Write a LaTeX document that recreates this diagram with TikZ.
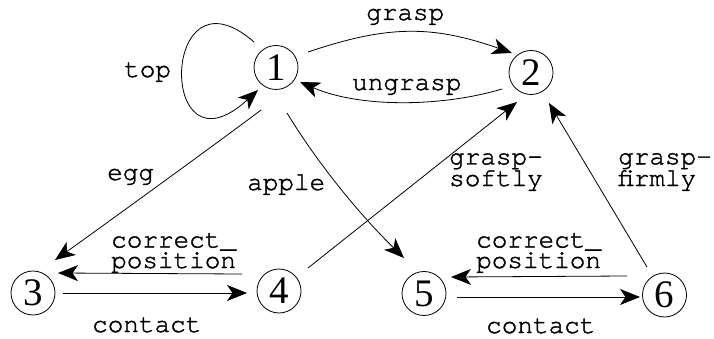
\documentclass[tikz,border=0pt]{standalone}
\usepackage{fontspec}
\setmainfont{Liberation Serif}
\setmonofont[FakeBold=1.5]{TeX Gyre Cursor}
\usetikzlibrary{arrows.meta,calc}

\begin{document}
\begin{tikzpicture}[x=1pt,y=-1pt,
  state/.style={circle,draw,line width=0.8pt,minimum size=44pt,inner sep=0pt,
                font=\fontsize{39}{39}\selectfont},
  lbl/.style={anchor=base west,inner sep=0pt,align=left,
              font=\ttfamily\fontsize{26}{20.5}\selectfont},
  arr/.style={line width=0.8pt,-{Stealth[length=20pt,width=16pt,inset=5.5pt]}}]
\useasboundingbox (0,0) rectangle (714,339);

% states
\node[state] (n1) at (276,67.5) {1};
\node[state] (n2) at (531,72.5) {2};
\node[state] (n3) at (33,293)   {3};
\node[state] (n4) at (279,291)  {4};
\node[state] (n5) at (424,293.5) {5};
\node[state] (n6) at (664.5,295) {6};

% transitions
\draw[arr] ($(n1)+(-22,-25.5)$) .. controls (160,-40) and (157,183) .. ($(n1)+(-18,22.5)$);
\draw[arr] ($(n1)+(32,-15.5)$) .. controls (388,25) and (432,25) .. ($(n2)+(-19,-19.5)$);
\draw[arr] ($(n2)+(-29,16.5)$) .. controls (442,107) and (360,108) .. ($(n1)+(24,14.5)$);
\draw[arr] ($(n1)+(-15,42.5)$) .. controls (235,130) and (100,228) .. ($(n3)+(22,-33)$);
\draw[arr] ($(n1)+(11,45.5)$) .. controls (318,164) and (360,215) .. ($(n5)+(-20,-35.5)$);
\draw[arr] ($(n4)+(29,-23)$) -- ($(n2)+(-14,29.5)$);
\draw[arr] ($(n6)+(-17.5,-28)$) -- ($(n2)+(18,30.5)$);
\draw[arr] ($(n4)+(-37,-17)$) -- ($(n3)+(25,-20)$);
\draw[arr] ($(n3)+(30,0)$) -- ($(n4)+(-32,2)$);
\draw[arr] ($(n6)+(-37.5,-19)$) -- ($(n5)+(27,-16.5)$);
\draw[arr] ($(n5)+(33,3.5)$) -- ($(n6)+(-24.5,2)$);

% transition labels (base anchor sits on the last line)
\node[lbl] (ltop)  at (124,77)  {top};
\node[lbl] (lgr)   at (366,20)  {grasp};
\node[lbl] (lung)  at (352,90)  {ungrasp};
\node[lbl] (legg)  at (107,180) {egg};
\node[lbl] (lapp)  at (247,190) {apple};
\node[lbl] (lsoft) at (449,186) {grasp-\\softly};
\node[lbl] (lfirm) at (618,186) {grasp-\\firmly};
\node[lbl] (lcp1)  at (111,268) {correct\_\\position};
\node[lbl] (lct1)  at (92,332)  {contact};
\node[lbl] (lcp2)  at (476,268) {correct\_\\position};
\node[lbl] (lct2)  at (486,333) {contact};
\end{tikzpicture}
\end{document}
